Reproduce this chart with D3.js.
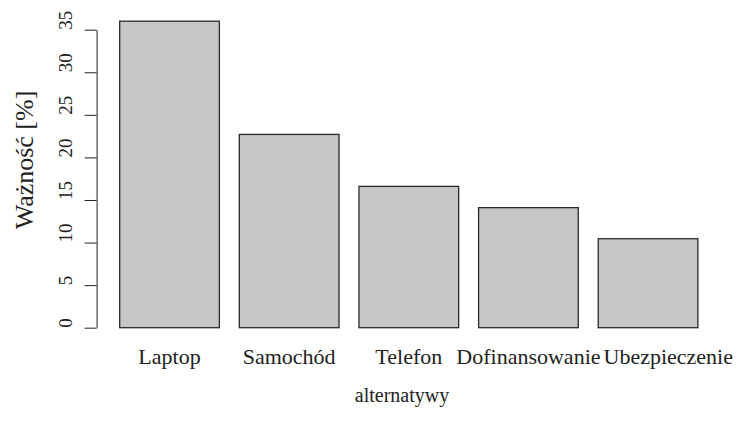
<!DOCTYPE html>
<html>
<head>
<meta charset="utf-8">
<script src="https://cdn.jsdelivr.net/npm/d3@7"></script>
<style>
  body { margin: 0; background: #fff; }
  text { font-family: "Liberation Serif", "Times New Roman", serif; fill: #222; }
</style>
</head>
<body>
<div id="chart"></div>
<script>
// data
var categories = ["Laptop", "Samochód", "Telefon", "Dofinansowanie", "Ubezpieczenie"];
var values = [36.0, 22.7, 16.6, 14.1, 10.45];
var yTicks = [0, 5, 10, 15, 20, 25, 30, 35];

function init() {
    var w = 738;
    var h = 429;

    var svg = d3.select("#chart")
        .append("svg")
        .attr("width", w)
        .attr("height", h);

    // R-style barplot region: space = 0.2, 4% extension at each side
    var x = d3.scaleBand()
        .domain(categories)
        .range([96.6, 721])
        .paddingInner(0.1667)
        .paddingOuter(0.193);

    var y = d3.scaleLinear()
        .domain([0, 35])
        .range([327.7, 29.7]);

    //Draw the bars
    svg.selectAll(".bar")
        .data(values)
        .enter()
        .append("rect")
        .attr("class", "bar")
        .attr("x", function (d, i) { return x(categories[i]); })
        .attr("y", function (d) { return y(d); })
        .attr("width", x.bandwidth())
        .attr("height", function (d) { return y(0) - y(d); })
        .attr("fill", "#c5c6c8")
        .attr("stroke", "#2a2a2a")
        .attr("stroke-width", 1.3);

    //y axis, ticks on the left, labels turned and reading upward from the tick
    var yAxis = d3.axisLeft(y)
        .tickValues(yTicks)
        .tickSize(12)
        .tickSizeOuter(0)
        .tickFormat(d3.format("d"));

    var gy = svg.append("g")
        .attr("transform", "translate(96.6,0)")
        .call(yAxis);
    gy.select(".domain").attr("stroke", "#222").attr("stroke-width", 1);
    gy.selectAll(".tick line").attr("stroke", "#222").attr("stroke-width", 1);
    gy.selectAll(".tick text")
        .attr("x", null)
        .attr("dy", null)
        .attr("transform", "translate(-25,-0.5) rotate(-90)")
        .attr("text-anchor", "start")
        .style("font-family", "Liberation Serif")
        .style("font-size", "19px")
        .style("fill", "#222");

    //category names under the bars, pushed right where they would overlap
    var names = svg.selectAll(".name")
        .data(categories)
        .enter()
        .append("text")
        .attr("class", "name")
        .attr("y", 364)
        .attr("text-anchor", "middle")
        .style("font-size", "22px")
        .text(function (d) { return d; });

    var prevRight = -Infinity;
    names.each(function (d) {
        var len = this.getComputedTextLength();
        var cx = x(d) + x.bandwidth() / 2;
        if (cx - len / 2 < prevRight + 3) {
            cx = prevRight + 3 + len / 2;
        }
        if (cx + len / 2 > w - 3) {
            cx = w - 3 - len / 2;
        }
        prevRight = cx + len / 2;
        d3.select(this).attr("x", cx);
    });

    // axis titles
    svg.append("text")
        .attr("transform", "translate(33,160) rotate(-90)")
        .attr("text-anchor", "middle")
        .style("font-size", "26px")
        .text("Ważność [%]");

    svg.append("text")
        .attr("x", 402)
        .attr("y", 402)
        .attr("text-anchor", "middle")
        .style("font-size", "20px")
        .text("alternatywy");
}

window.onload = init;
</script>
</body>
</html>
